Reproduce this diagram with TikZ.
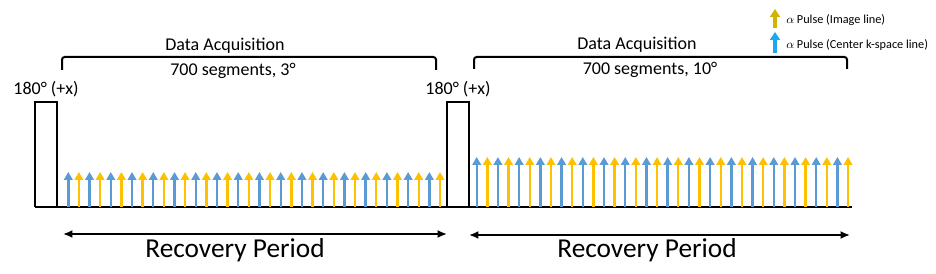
\documentclass[tikz,border=0pt]{standalone}
\usepackage{fontspec}
\setmainfont{Carlito}
\usetikzlibrary{arrows.meta}
\definecolor{pulseblue}{HTML}{5B9BD5}
\definecolor{pulsegold}{HTML}{FFC000}
\definecolor{keygold}{HTML}{D2B400}
\definecolor{keyblue}{HTML}{1CA8EE}
\tikzset{
	pulse/.style={line width=1.8pt, -{Triangle[width=6.5pt,length=6pt]}},
	keypulse/.style={line width=3pt, -{Triangle[width=7.5pt,length=6pt]}},
	period/.style={line width=1.5pt, {Latex[length=7pt,width=6pt]}-{Latex[length=7pt,width=6pt]}},
	bracket/.style={line width=1.5pt, rounded corners=2pt},
	label/.style={inner sep=0pt, font=\fontsize{13.5}{15}\selectfont},
	big/.style={inner sep=0pt, font=\fontsize{20.5}{23}\selectfont},
	keytext/.style={anchor=west, inner sep=0pt, font=\fontsize{9.2}{11}\selectfont}
}
\begin{document}
\begin{tikzpicture}[x=0.75pt, y=-0.75pt]
		\useasboundingbox (0,0) rectangle (936,274);

		% inversion pulses and time axis
		\draw [line width=1.1pt] (35,207) -- (35,102) -- (57,102) -- (57,207);
		\draw [line width=1.1pt] (447,207) -- (447,102) -- (469,102) -- (469,207);
		\draw [line width=1.6pt] (35,207) -- (852,207);

		% alpha pulses, 3 deg
		\foreach \i in {0,...,17} {
			\draw [pulse, pulseblue] (68.3+21.24*\i,207) -- (68.3+21.24*\i,172);
			\draw [pulse, pulsegold] (78.9+21.24*\i,207) -- (78.9+21.24*\i,172);
		}
		% alpha pulses, 10 deg
		\foreach \i in {0,...,17} {
			\draw [pulse, pulseblue] (476.7+21.22*\i,207) -- (476.7+21.22*\i,157);
			\draw [pulse, pulsegold] (487.3+21.22*\i,207) -- (487.3+21.22*\i,157);
		}

		% acquisition brackets
		\draw [bracket] (62,70) -- (62,57) -- (436,57) -- (436,70);
		\draw [bracket] (474,69) -- (474,57) -- (847,57) -- (847,69);

		\node [label] (acqA) at (225,46) {Data Acquisition};
		\node [label] (segA) at (233,71) {700 segments, 3°};
		\node [label] (acqB) at (637,45) {Data Acquisition};
		\node [label] (segB) at (650,70) {700 segments, 10°};
		\node [label] (invA) at (46,89) {180° (+x)};
		\node [label] (invB) at (458,89) {180° (+x)};

		% recovery periods
		\coordinate (recAl) at (63,234);
		\coordinate (recAr) at (447,234);
		\coordinate (recBl) at (469,235);
		\coordinate (recBr) at (850,235);
		\draw [period] (recAl) -- (recAr);
		\draw [period] (recBl) -- (recBr);
		\node [big] (recA) at (235,250) {Recovery Period};
		\node [big] (recB) at (647,250) {Recovery Period};

		% legend
		\draw [keypulse, keygold] (775,28) -- (775,9);
		\draw [keypulse, keyblue] (775,53) -- (775,32);
		\node [keytext] (keyA) at (786,20) {$\alpha$ Pulse (Image line)};
		\node [keytext] (keyB) at (786,45) {$\alpha$ Pulse (Center k-space line)};

		\end{tikzpicture}
\end{document}
